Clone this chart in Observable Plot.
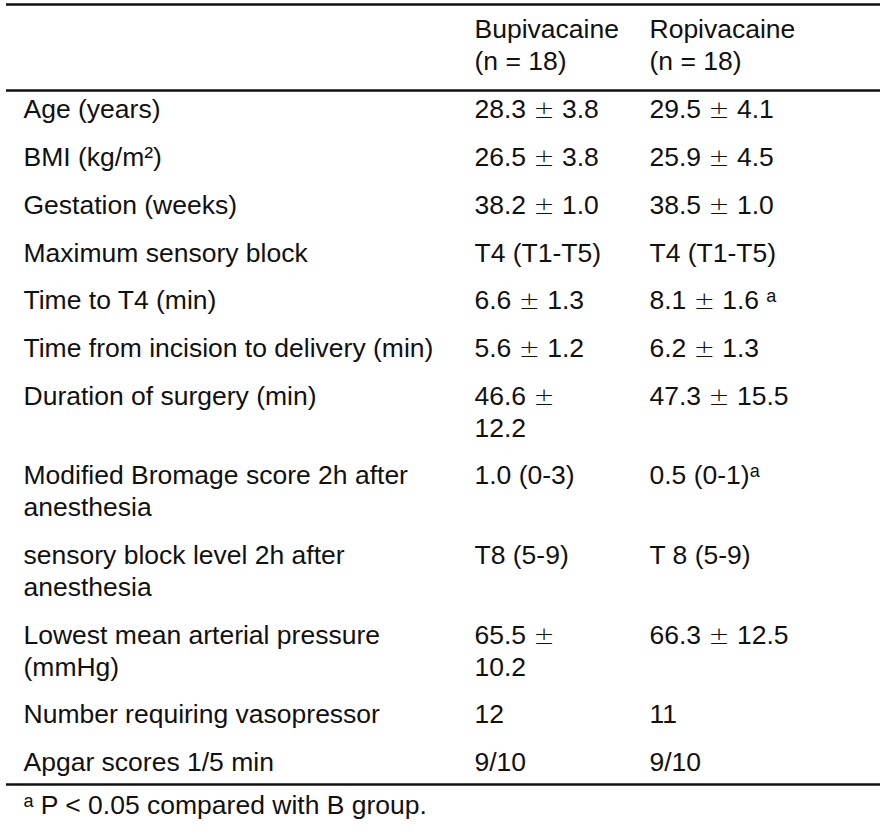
<!DOCTYPE html>
<html>
<head>
<meta charset="utf-8">
<script src="https://cdn.jsdelivr.net/npm/d3@7"></script>
<script src="https://cdn.jsdelivr.net/npm/@observablehq/plot@0.6"></script>
<style>
  html, body { margin: 0; padding: 0; background: #fff; }
  #chart svg { display: block; }
</style>
</head>
<body>
<div id="chart"></div>
<script>
// ---- data ----
const groups = ["Bupivacaine\n(n = 18)", "Ropivacaine\n(n = 18)"];
const characteristics = [
  "Age (years)",
  "BMI (kg/m²)",
  "Gestation (weeks)",
  "Maximum sensory block",
  "Time to T4 (min)",
  "Time from incision to delivery (min)",
  "Duration of surgery (min)",
  "Modified Bromage score 2h after\nanesthesia",
  "sensory block level 2h after\nanesthesia",
  "Lowest mean arterial pressure\n(mmHg)",
  "Number requiring vasopressor",
  "Apgar scores 1/5 min"
];
const bupivacaine = [
  "28.3 ± 3.8",
  "26.5 ± 3.8",
  "38.2 ± 1.0",
  "T4 (T1-T5)",
  "6.6 ± 1.3",
  "5.6 ± 1.2",
  "46.6 ±\n12.2",
  "1.0 (0-3)",
  "T8 (5-9)",
  "65.5 ±\n10.2",
  "12",
  "9/10"
];
const ropivacaine = [
  "29.5 ± 4.1",
  "25.9 ± 4.5",
  "38.5 ± 1.0",
  "T4 (T1-T5)",
  "8.1 ± 1.6 ᵃ",
  "6.2 ± 1.3",
  "47.3 ± 15.5",
  "0.5 (0-1)ᵃ",
  "T 8 (5-9)",
  "66.3 ± 12.5",
  "11",
  "9/10"
];
const footnote = "ᵃ P < 0.05 compared with B group.";

// ---- layout ----
const W = 888, H = 833;
const fs = 26.5, capTop = 0.71 * fs;
const colX = [23, 474, 649];
const headBase = 34, linePitch = 32, rowPitch = 47.7, firstBase = 114;
const ruleX1 = 6, ruleX2 = 880;

const nLines = s => s.split("\n").length;
let base = firstBase;
const rows = characteristics.map((c, i) => {
  const r = {label: c, b: bupivacaine[i], r: ropivacaine[i], base};
  const n = Math.max(nLines(c), nLines(bupivacaine[i]), nLines(ropivacaine[i]));
  base += rowPitch + (n - 1) * linePitch;
  return r;
});
const lastBase = rows[rows.length - 1].base;
const ruleYs = [4, 90, 784];
const footBase = lastBase + 43;

const cells = [];
groups.forEach((g, j) => cells.push({x: colX[j + 1], y: headBase - capTop, text: g}));
rows.forEach(r => {
  cells.push({x: colX[0], y: r.base - capTop, text: r.label});
  cells.push({x: colX[1], y: r.base - capTop, text: r.b});
  cells.push({x: colX[2], y: r.base - capTop, text: r.r});
});
cells.push({x: colX[0], y: footBase - capTop, text: footnote});

const chart = Plot.plot({
  width: W,
  height: H,
  margin: 0,
  x: {domain: [0, W], range: [0, W], axis: null},
  y: {domain: [0, H], range: [0, H], axis: null},
  style: {fontFamily: "'Liberation Sans', Arial, sans-serif", background: "#fff"},
  marks: [
    Plot.ruleY(ruleYs, {x1: ruleX1, x2: ruleX2, stroke: "#111", strokeWidth: 2.6}),
    Plot.text(cells, {
      x: "x", y: "y", text: "text",
      textAnchor: "start", lineAnchor: "top",
      lineHeight: linePitch / fs,
      fontSize: fs, fill: "#111"
    })
  ]
});

// render the ± sign in a thin, wide math-style glyph as in the original
const walker = document.createTreeWalker(chart, NodeFilter.SHOW_TEXT);
const nodes = [];
while (walker.nextNode()) nodes.push(walker.currentNode);
const NS = "http://www.w3.org/2000/svg";
for (const node of nodes) {
  const s = node.nodeValue;
  if (!s.includes("±")) continue;
  const frag = document.createDocumentFragment();
  for (const part of s.split(/(±)/)) {
    if (!part) continue;
    if (part === "±") {
      const t = document.createElementNS(NS, "tspan");
      t.setAttribute("font-family", "'DejaVu Sans', sans-serif");
      t.setAttribute("font-weight", "200");
      t.setAttribute("font-size", "0.95em");
      t.textContent = "±";
      frag.appendChild(t);
    } else {
      frag.appendChild(document.createTextNode(part));
    }
  }
  node.parentNode.replaceChild(frag, node);
}
document.getElementById("chart").appendChild(chart);
</script>
</body>
</html>
